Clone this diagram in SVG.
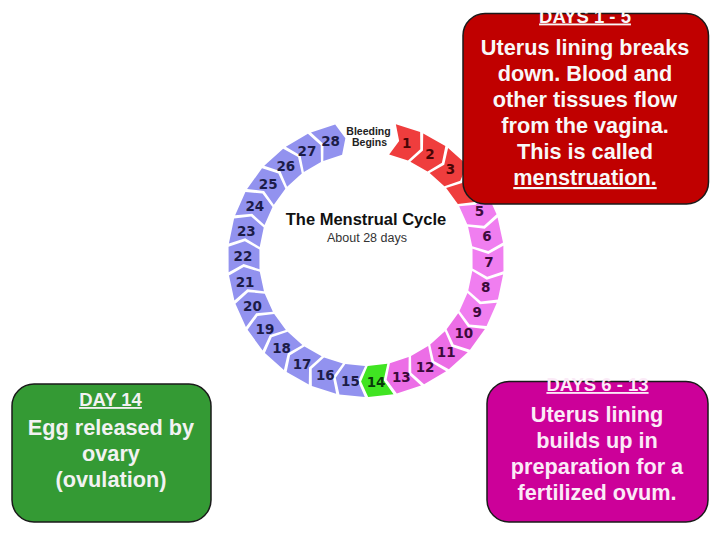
<svg xmlns="http://www.w3.org/2000/svg" xmlns:xlink="http://www.w3.org/1999/xlink" width="720" height="540" viewBox="0 0 720 540">
<style>
.num{font-family:"DejaVu Sans","Liberation Sans",sans-serif;font-weight:bold;font-size:13.5px;text-anchor:middle}
.nl{fill:#1c1c48}.nr{fill:#4a0505}.np{fill:#3c0a3c}.ng{fill:#0a3a0a}
.sl{fill:#9292ef}.sr{fill:#ef3d3d}.sp{fill:#f07ef0}.sp2{fill:#ec6ee6}.sg{fill:#40e422}
.box{stroke:#1a1a1a;stroke-width:1.5}
.ttl{font-family:"Liberation Sans",Arial,sans-serif;font-weight:bold;font-size:18.5px;text-anchor:middle;text-decoration:underline}
.body{font-family:"Liberation Sans",Arial,sans-serif;font-weight:bold;font-size:21.7px;text-anchor:middle}
</style>
<defs>
<path id="chev" d="M137.41,-12.75 L122.42,-4.49 L106.54,-9.88 L106.54,9.88 L121.15,18.11 L137.41,12.75 Z"/>
</defs>
<rect width="720" height="540" fill="#ffffff"/>
<g id="cycle">
<g id="segments">
<use xlink:href="#chev" class="sr" transform="translate(366,259) rotate(287.8)"/>
<use xlink:href="#chev" class="sr" transform="translate(366,259) rotate(299.8)"/>
<use xlink:href="#chev" class="sr" transform="translate(366,259) rotate(311.8)"/>
<use xlink:href="#chev" class="sr" transform="translate(366,259) rotate(323.8)"/>
<use xlink:href="#chev" class="sp" transform="translate(366,259) rotate(335.8)"/>
<use xlink:href="#chev" class="sp" transform="translate(366,259) rotate(347.8)"/>
<use xlink:href="#chev" class="sp" transform="translate(366,259) rotate(359.8)"/>
<use xlink:href="#chev" class="sp" transform="translate(366,259) rotate(11.8)"/>
<use xlink:href="#chev" class="sp" transform="translate(366,259) rotate(23.8)"/>
<use xlink:href="#chev" class="sp2" transform="translate(366,259) rotate(35.8)"/>
<use xlink:href="#chev" class="sp2" transform="translate(366,259) rotate(47.8)"/>
<use xlink:href="#chev" class="sp2" transform="translate(366,259) rotate(59.8)"/>
<use xlink:href="#chev" class="sp2" transform="translate(366,259) rotate(71.8)"/>
<use xlink:href="#chev" class="sg" transform="translate(366,259) rotate(83.8)"/>
<use xlink:href="#chev" class="sl" transform="translate(366,259) rotate(95.8)"/>
<use xlink:href="#chev" class="sl" transform="translate(366,259) rotate(107.8)"/>
<use xlink:href="#chev" class="sl" transform="translate(366,259) rotate(119.8)"/>
<use xlink:href="#chev" class="sl" transform="translate(366,259) rotate(131.8)"/>
<use xlink:href="#chev" class="sl" transform="translate(366,259) rotate(143.8)"/>
<use xlink:href="#chev" class="sl" transform="translate(366,259) rotate(155.8)"/>
<use xlink:href="#chev" class="sl" transform="translate(366,259) rotate(167.8)"/>
<use xlink:href="#chev" class="sl" transform="translate(366,259) rotate(179.8)"/>
<use xlink:href="#chev" class="sl" transform="translate(366,259) rotate(191.8)"/>
<use xlink:href="#chev" class="sl" transform="translate(366,259) rotate(203.8)"/>
<use xlink:href="#chev" class="sl" transform="translate(366,259) rotate(215.8)"/>
<use xlink:href="#chev" class="sl" transform="translate(366,259) rotate(227.8)"/>
<use xlink:href="#chev" class="sl" transform="translate(366,259) rotate(239.8)"/>
<use xlink:href="#chev" class="sl" transform="translate(366,259) rotate(251.8)"/>
</g>
<g id="day-numbers">
<text class="num nr" x="406.7" y="147.8">1</text>
<text class="num nr" x="429.9" y="158.8">2</text>
<text class="num nr" x="450.4" y="174.4">3</text>
<text class="num np" x="479.5" y="216.4">5</text>
<text class="num np" x="486.9" y="241.1">6</text>
<text class="num np" x="489" y="266.7">7</text>
<text class="num np" x="485.7" y="292.2">8</text>
<text class="num np" x="477.2" y="316.5">9</text>
<text class="num np" x="463.8" y="338.4">10</text>
<text class="num np" x="446.2" y="357.1">11</text>
<text class="num np" x="425.1" y="371.8">12</text>
<text class="num np" x="401.3" y="381.7">13</text>
<text class="num ng" x="376.1" y="386.5">14</text>
<text class="num nl" x="350.4" y="385.9">15</text>
<text class="num nl" x="325.3" y="380">16</text>
<text class="num nl" x="302.1" y="369">17</text>
<text class="num nl" x="281.6" y="353.4">18</text>
<text class="num nl" x="264.9" y="333.9">19</text>
<text class="num nl" x="252.5" y="311.4">20</text>
<text class="num nl" x="245.1" y="286.7">21</text>
<text class="num nl" x="243" y="261.1">22</text>
<text class="num nl" x="246.3" y="235.6">23</text>
<text class="num nl" x="254.8" y="211.3">24</text>
<text class="num nl" x="268.2" y="189.4">25</text>
<text class="num nl" x="285.8" y="170.7">26</text>
<text class="num nl" x="306.9" y="156">27</text>
<text class="num nl" x="330.6" y="146.1">28</text>
</g>
<g id="cycle-labels" font-family="'Liberation Sans',Arial,sans-serif" text-anchor="middle">
<text x="368.5" y="135" font-size="10.5" font-weight="bold" fill="#222">Bleeding</text>
<text x="369.5" y="146" font-size="10.5" font-weight="bold" fill="#222">Begins</text>
<text x="366" y="225" font-size="16.5" font-weight="bold" fill="#111">The Menstrual Cycle</text>
<text x="367" y="242" font-size="12.5" fill="#333">About 28 days</text>
</g>
</g>
<g id="box-days-1-5">
<rect class="box" x="463" y="13.5" width="245.5" height="190.5" rx="22" fill="#c00000"/>
<text class="ttl" x="585" y="22.5" fill="#f8f8f8">DAYS 1 - 5</text>
<g class="body" fill="#f8f8f8">
<text x="585" y="55">Uterus lining breaks</text>
<text x="585" y="81">down. Blood and</text>
<text x="585" y="107">other tissues flow</text>
<text x="585" y="133">from the vagina.</text>
<text x="585" y="159">This is called</text>
<text x="585" y="185" text-decoration="underline">menstruation.</text>
</g>
</g>
<g id="box-day-14">
<rect class="box" x="12" y="384" width="199" height="138" rx="22" fill="#349a34"/>
<text class="ttl" x="110.5" y="406" fill="#f2f2f2">DAY 14</text>
<g class="body" fill="#f2f2f2">
<text x="111" y="435">Egg released by</text>
<text x="111" y="461">ovary</text>
<text x="111" y="487">(ovulation)</text>
</g>
</g>
<g id="box-days-6-13">
<rect class="box" x="487" y="381.5" width="221" height="140.5" rx="22" fill="#cc0099"/>
<text class="ttl" x="597.5" y="391" fill="#fbeaf7">DAYS 6 - 13</text>
<g class="body" fill="#fbeaf7">
<text x="597" y="422">Uterus lining</text>
<text x="597" y="448">builds up in</text>
<text x="597" y="474">preparation for a</text>
<text x="597" y="500">fertilized ovum.</text>
</g>
</g>
</svg>
